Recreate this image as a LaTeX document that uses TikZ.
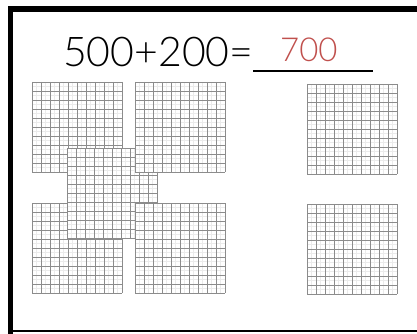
\documentclass[tikz,border=0pt]{standalone}
\usepackage{fontspec}
\newfontfamily\thinfont{Lato Light}
\definecolor{ansred}{RGB}{192,80,77}
\tikzset{
  gridlight/.style={draw=black!8, line width=0.6pt},
  griddark/.style={draw=black!45, line width=0.6pt},
  frameline/.style={draw=black, line cap=rect},
  flat/.pic={
    \fill[white] (0,0) rectangle (90,90);
    \foreach \i in {0,...,9} {
      \draw[gridlight] (\i*9+4.5,0) -- (\i*9+4.5,90);
      \draw[gridlight] (0,\i*9+4.5) -- (90,\i*9+4.5);
    }
    \foreach \i in {0,...,10} {
      \draw[griddark] (\i*9,0) -- (\i*9,90);
      \draw[griddark] (0,\i*9) -- (90,\i*9);
    }
  }
}
\begin{document}
\begin{tikzpicture}[x=1pt,y=-1pt]
\useasboundingbox (0,0) rectangle (417,334);
% frame
\draw[frameline, line width=6pt] (10.5,9) -- (420,9);
\draw[frameline, line width=5pt] (10.5,9) -- (10.5,331);
\draw[line width=1.6pt] (8,331.2) -- (420,331.2);
% equation
\node[anchor=base west, inner sep=0, font=\thinfont\fontsize{41}{41}\selectfont] (eq) at (63,67) {500+200=};
\coordinate (ulA) at (253,71);
\coordinate (ulB) at (373,71);
\draw[line width=1.5pt] (ulA) -- (ulB);
\node[anchor=base west, inner sep=0, text=ansred, font=\thinfont\fontsize{33}{33}\selectfont] (ans) at (280,62) {700};
% hundreds flats
\pic at (32,82) {flat};
\pic at (32,203) {flat};
\pic at (67,148) {flat};
\pic at (135,82) {flat};
\pic at (135,203) {flat};
\pic at (307,84) {flat};
\pic at (307,204) {flat};
\end{tikzpicture}
\end{document}
